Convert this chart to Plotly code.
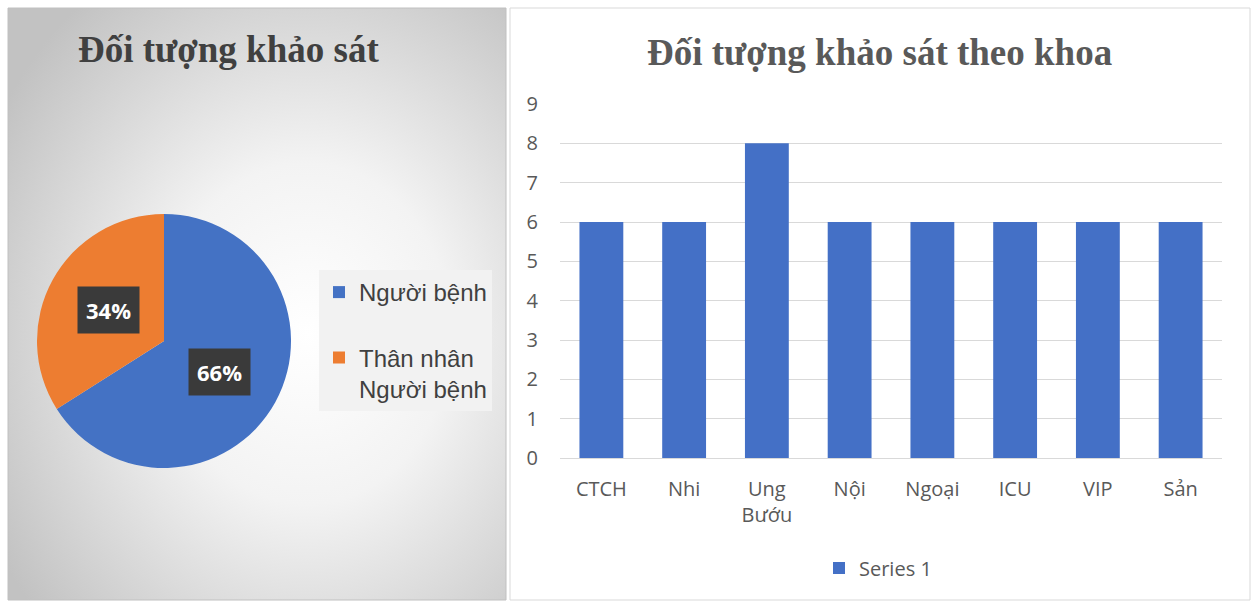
import base64, math
import plotly.graph_objects as go

# ---- data ----
pie_labels = ["Người bệnh", "Thân nhân<br>Người bệnh"]
pie_values = [66, 34]
pie_colors = ["#4472C4", "#ED7D31"]

bar_categories = ["CTCH", "Nhi", "Ung<br>Bướu", "Nội", "Ngoại", "ICU", "VIP", "Sản"]
bar_values = [6, 6, 8, 6, 6, 6, 6, 6]
y_ticks = list(range(0, 10))

W, H = 1252, 604
def px(x): return x / W
def py(y): return 1 - y / H

fig = go.Figure()

# pie geometry
pcx, pcy, pr = 164, 341, 127
fig.add_trace(go.Pie(
    labels=[pie_labels[0] + "<br> ", pie_labels[1]],
    values=pie_values, sort=False, direction="clockwise", rotation=0,
    marker=dict(colors=pie_colors, line=dict(width=0)),
    textinfo="none", hoverinfo="label+percent",
    domain=dict(x=[px(pcx - pr), px(pcx + pr)], y=[py(pcy + pr), py(pcy - pr)]),
    legend="legend", showlegend=True,
))

fig.add_trace(go.Bar(
    x=bar_categories, y=bar_values, name="Series 1",
    marker=dict(color="#4470C6", line=dict(width=0)),
    legend="legend2",
))

# percentage label annotations
total = sum(pie_values)
cum = 0
annotations = []
for v in pie_values:
    mid = (cum + v / 2) / total * 2 * math.pi
    cum += v
    dx = math.sin(mid) * pr * 0.5
    dy = -math.cos(mid) * pr * 0.5   # positive = downward on screen
    annotations.append(dict(
        x=px(pcx + dx), y=py(pcy + dy), xref="paper", yref="paper",
        text=f"<b>{round(v / total * 100)}%</b>", showarrow=False,
        font=dict(family="Open Sans", size=22, color="white"),
        bgcolor="#3a3a3a", borderpad=8, xanchor="center", yanchor="middle"))

annotations.append(dict(x=px(228), y=py(50), xref="paper", yref="paper",
    text="<b>Đối tượng khảo sát</b>", showarrow=False,
    font=dict(family="Liberation Serif", size=37, color="#404040"),
    xanchor="center", yanchor="middle"))
annotations.append(dict(x=px(879), y=py(53), xref="paper", yref="paper",
    text="<b>Đối tượng khảo sát theo khoa</b>", showarrow=False,
    font=dict(family="Liberation Serif", size=37, color="#595959"),
    xanchor="center", yanchor="middle"))

svg = """<svg xmlns='http://www.w3.org/2000/svg' width='498' height='592' viewBox='0 0 498 592' preserveAspectRatio='none'>
<defs><radialGradient id='g' cx='60%' cy='55%' r='72%'>
<stop offset='0%' stop-color='#ffffff'/><stop offset='40%' stop-color='#f3f3f3'/><stop offset='100%' stop-color='#c2c2c2'/>
</radialGradient></defs><rect width='498' height='592' fill='url(#g)'/></svg>"""
src = "data:image/svg+xml;base64," + base64.b64encode(svg.encode()).decode()

fig.update_layout(
    width=W, height=H, autosize=False, margin=dict(l=0, r=0, t=0, b=0, autoexpand=False),
    paper_bgcolor="white", plot_bgcolor="rgba(0,0,0,0)",
    annotations=annotations,
    images=[dict(source=src, xref="paper", yref="paper", x=px(8), y=py(8),
                 sizex=px(506) - px(8), sizey=py(8) - py(600),
                 sizing="stretch", layer="below", xanchor="left", yanchor="top")],
    shapes=[
        dict(type="rect", xref="paper", yref="paper", x0=px(8), x1=px(506), y0=py(600), y1=py(8),
             line=dict(color="#c0c0c0", width=1), fillcolor="rgba(0,0,0,0)", layer="below"),
        dict(type="rect", xref="paper", yref="paper", x0=px(510), x1=px(1250), y0=py(600), y1=py(8),
             line=dict(color="#d9d9d9", width=1), fillcolor="white", layer="below"),
    ],
    xaxis=dict(domain=[px(560), px(1222)], showline=True, linecolor="#d9d9d9", linewidth=1,
               tickfont=dict(family="Open Sans", size=20, color="#595959"), ticks="",
               ticklabelstandoff=13, fixedrange=True, automargin=False),
    yaxis=dict(domain=[py(458), py(104)], range=[0, 9], tickvals=y_ticks, showgrid=True,
               gridcolor="#d9d9d9", zeroline=False, showline=False, ticks="",
               tickfont=dict(family="Open Sans", size=20, color="#595959"),
               ticklabelstandoff=21, fixedrange=True, automargin=False),
    bargap=0.47,
    legend=dict(x=px(319), y=py(270), xanchor="left", yanchor="top", bgcolor="#f2f2f2",
                font=dict(family="Liberation Sans", size=24, color="#404040"), valign="top",
                itemsizing="constant", borderwidth=0, tracegroupgap=0),
    legend2=dict(x=px(878), y=py(568), xanchor="center", yanchor="middle", orientation="h",
                 bgcolor="rgba(0,0,0,0)", font=dict(family="Open Sans", size=20, color="#595959")),
    showlegend=True,
)

post = """
document.documentElement.style.margin='0';
document.documentElement.style.overflow='hidden';
document.body.style.margin='0';
document.body.style.overflow='hidden';
"""
fig.write_html("out.html", post_script=post,
               config={"displayModeBar": False, "responsive": False})
